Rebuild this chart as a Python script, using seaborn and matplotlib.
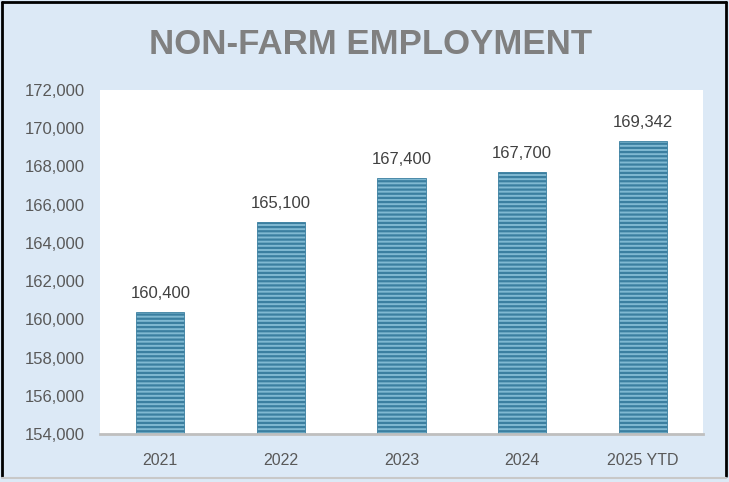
import matplotlib
matplotlib.use("Agg")
import matplotlib.pyplot as plt
from matplotlib.lines import Line2D
import seaborn as sns
import pandas as pd

years = ["2021", "2022", "2023", "2024", "2025 YTD"]
employment = [160400, 165100, 167400, 167700, 169342]
yticks = [154000, 156000, 158000, 160000, 162000, 164000, 166000, 168000, 170000, 172000]

sns.set_style("white")
plt.rcParams['font.family'] = ['Liberation Sans', 'DejaVu Sans']
plt.rcParams['hatch.linewidth'] = 1.6
plt.rcParams['hatch.color'] = '#2A6A8A'

df = pd.DataFrame({"year": years, "emp": employment})

fig = plt.figure(figsize=(7.29, 4.82), dpi=100)
fig.patch.set_facecolor('#DCE9F6')
ax = fig.add_axes([100/729, 1-434/482, 603/729, 344/482])
ax.set_facecolor('white')

sns.barplot(data=df, x="year", y="emp", ax=ax, color='#80B9D2', width=0.4,
            saturation=1, edgecolor='#3B7FA0', linewidth=0.6)
for p in ax.patches:
    p.set_hatch('----')

ax.set_ylim(154000, 172000)
ax.set_yticks(yticks)
ax.set_yticklabels([f"{v:,}" for v in yticks], color='#595959', fontsize=12)
ax.tick_params(axis='y', length=0, pad=11)
ax.tick_params(axis='x', length=0, pad=14, labelsize=11.5, labelcolor='#595959')
ax.set_xlabel("")
ax.set_ylabel("")
for s in ['top', 'right', 'left']:
    ax.spines[s].set_visible(False)
ax.spines['bottom'].set_color('#BFBFBF')
ax.spines['bottom'].set_linewidth(2)

for i, v in enumerate(employment):
    ax.annotate(f"{v:,}", (i, v), xytext=(0, 8), textcoords='offset points',
                ha='center', va='bottom', fontsize=12, color='#404040')

fig.text(371/729, 1-44/482, "NON-FARM EMPLOYMENT", ha='center', va='center',
         fontsize=25, fontweight='bold', color='#808080')

# outer frame
fig.add_artist(Line2D([0.003, 0.003], [0.012, 0.996], transform=fig.transFigure, color='black', lw=2))
fig.add_artist(Line2D([0.003, 0.996], [0.996, 0.996], transform=fig.transFigure, color='black', lw=2))
fig.add_artist(Line2D([0.996, 0.996], [0.012, 0.996], transform=fig.transFigure, color='black', lw=2))
fig.add_artist(Line2D([0.003, 0.996], [0.008, 0.008], transform=fig.transFigure, color='#C8C8C8', lw=1.5))

fig.savefig("out.png", dpi=100, facecolor=fig.get_facecolor())
